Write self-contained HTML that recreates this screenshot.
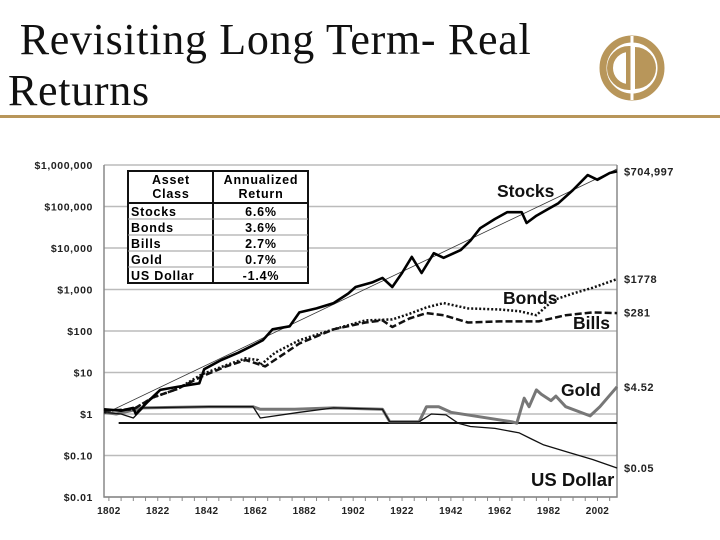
<!DOCTYPE html>
<html><head><meta charset="utf-8"><style>
body{margin:0;width:720px;height:540px;background:#fff;overflow:hidden;position:relative;font-family:"Liberation Sans",sans-serif}
.title{position:absolute;left:8px;top:14px;font-family:"Liberation Serif",serif;font-size:44px;line-height:51px;color:#111;letter-spacing:0.7px}
</style></head><body>
<div class="title">&nbsp;Revisiting Long Term- Real<br>Returns</div>
<div style="position:absolute;left:0;top:115px;width:720px;height:3px;background:#b8965a"></div>
<svg style="position:absolute;left:596px;top:33px" width="72" height="70" viewBox="0 0 72 70">
<circle cx="36" cy="35" r="29" fill="none" stroke="#b8965a" stroke-width="7"/>
<path d="M33 16 A19 19 0 0 0 33 54 Z" fill="none" stroke="#b8965a" stroke-width="6"/>
<path d="M39 14 L39 56 A21 21 0 0 0 39 14 Z" fill="#b8965a"/>
<line x1="36" y1="3" x2="36" y2="67" stroke="#fff" stroke-width="3"/>
</svg>
<svg id="chart" style="position:absolute;left:0;top:0" width="720" height="540"></svg>
<script>
const yTicks=[1000000,100000,10000,1000,100,10,1,0.1,0.01];
const yTickLabels=["$1,000,000","$100,000","$10,000","$1,000","$100","$10","$1","$0.10","$0.01"];
const xTicks=[1802,1822,1842,1862,1882,1902,1922,1942,1962,1982,2002];
const stockYears=[1800,1807,1812,1813,1818,1823,1830,1839,1841,1848,1855,1860,1865,1869,1876,1880,1887,1894,1900,1903,1910,1914,1918,1922,1926,1930,1935,1939,1946,1950,1954,1960,1965,1971,1973,1977,1981,1986,1992,1998,2002,2007,2010];
const stockVals=[1.3,1.2,1.4,1.0,2,3.8,4.5,5.5,12,20,30,42,60,110,130,280,350,470,800,1150,1500,1900,1150,2500,6100,2500,7500,5800,8900,15000,30000,50000,73000,73000,40000,60000,82000,120000,250000,570000,440000,640000,705000];
const trendYears=[1800,2010];
const trendVals=[1,800000];
const bondYears=[1800,1812,1820,1830,1840,1850,1858,1863,1864,1870,1880,1894,1907,1918,1925,1932,1939,1949,1962,1970,1977,1984,1992,2000,2010];
const bondVals=[1.2,1.3,2.5,4,9,15,22,20,15,30,60,110,180,190,260,370,470,350,330,300,240,560,800,1100,1778];
const billYears=[1800,1812,1820,1830,1840,1850,1858,1863,1866,1880,1894,1907,1914,1918,1925,1932,1939,1949,1962,1978,1989,2000,2010];
const billVals=[1.2,1.3,2.5,4,8,14,20,16,14,50,110,160,180,125,200,270,240,160,170,170,240,280,270];
const goldYears=[1800,1805,1816,1843,1861,1864,1878,1894,1914,1917,1929,1932,1937,1942,1967,1969,1972,1974,1977,1979,1983,1985,1989,1999,2003,2010];
const goldVals=[1.1,1.0,1.4,1.5,1.5,1.3,1.3,1.4,1.3,0.65,0.65,1.5,1.5,1.1,0.65,0.6,2.4,1.5,3.8,3.0,2.1,2.7,1.5,0.9,1.5,4.52];
const usdYears=[1800,1807,1812,1816,1843,1861,1864,1880,1894,1914,1917,1929,1934,1940,1945,1950,1960,1970,1975,1980,1990,2000,2010];
const usdVals=[1.1,1.0,0.8,1.4,1.5,1.5,0.8,1.1,1.4,1.3,0.65,0.65,1.0,0.95,0.6,0.5,0.45,0.35,0.25,0.18,0.12,0.08,0.05];
const endLabels=["$704,997","$1778","$281","$4.52","$0.05"];
const endVals=[704997,1778,281,4.52,0.05];

const L=104,R=617,T=165,B=497;
const x=yr=>L+(yr-1800)*(R-L)/210;
const y=v=>T+(6-Math.log10(v))*(B-T)/8;
const svg=document.getElementById('chart');
const NS="http://www.w3.org/2000/svg";
function mk(tag,attrs,parent){const e=document.createElementNS(NS,tag);for(const k in attrs)e.setAttribute(k,attrs[k]);(parent||svg).appendChild(e);return e;}
yTicks.forEach((v,i)=>{
  const g=mk('line',{x1:L,x2:R,y1:y(v),y2:y(v),stroke:'#bbb','stroke-width':1.5});
  
  
  const t=mk('text',{x:L-11,y:y(v)+4,'text-anchor':'end','font-size':10.5,'letter-spacing':0.6,'font-weight':'bold',fill:'#222'});
  t.textContent=yTickLabels[i];
  
  
});
const ax=mk('path',{d:`M${L} ${T} V${B} H${R} V${T}`,fill:'none',stroke:'#888','stroke-width':1.5});


for(let yr=1802;yr<=2010;yr+=5){mk('line',{x1:x(yr),x2:x(yr),y1:B,y2:B+4,stroke:'#888'});}
xTicks.forEach(yr=>{
  const t=mk('text',{x:x(yr),y:B+17,'text-anchor':'middle','font-size':10,'letter-spacing':0.3,'font-weight':'bold',fill:'#222'});
  t.textContent=yr;
  
  
});
const base=mk('line',{x1:x(1806),x2:R,y1:423,y2:423,stroke:'#111','stroke-width':2});


function series(ys,vs,name,st){
  const d=ys.map((yr,i)=>(i?'L':'M')+x(yr).toFixed(1)+' '+y(vs[i]).toFixed(1)).join(' ');
  const p=mk('path',Object.assign({d,fill:'none','stroke-linejoin':'round'},st));
  
  
}
series(goldYears,goldVals,'gold-line',{stroke:'#777','stroke-width':3});
series(usdYears,usdVals,'us-dollar-line',{stroke:'#111','stroke-width':1.3});
series(billYears,billVals,'bills-line',{stroke:'#111','stroke-width':2.5,'stroke-dasharray':'7 3'});
series(bondYears,bondVals,'bonds-line',{stroke:'#111','stroke-width':2.5,'stroke-dasharray':'2 2'});
series(trendYears,trendVals,'stocks-trend-line',{stroke:'#333','stroke-width':0.8});
series(stockYears,stockVals,'stocks-line',{stroke:'#000','stroke-width':2.6});
endVals.forEach((v,i)=>{
  const t=mk('text',{x:R+7,y:y(v)+4,'font-size':11,'letter-spacing':0.5,'font-weight':'bold',fill:'#222'});
  t.textContent=endLabels[i];
  
  
});
[["Stocks",497,197],["Bonds",503,304],["Bills",573,329],["Gold",561,396],["US Dollar",531,486]].forEach(s=>{
  const t=mk('text',{x:s[1],y:s[2],'font-size':s[0]=="US Dollar"?18.5:17.5,'font-weight':'bold',fill:'#111'});
  t.textContent=s[0];
  
  
});
// table
const tb=mk('g',{});


mk('rect',{x:128,y:171,width:180,height:112,fill:'#fff',stroke:'#111','stroke-width':2},tb);
mk('line',{x1:213,x2:213,y1:171,y2:283,stroke:'#111','stroke-width':2},tb);
mk('line',{x1:128,x2:308,y1:203,y2:203,stroke:'#111','stroke-width':2},tb);
const rows=[["Stocks","6.6%"],["Bonds","3.6%"],["Bills","2.7%"],["Gold","0.7%"],["US Dollar","-1.4%"]];
const fs={'font-size':12.5,'letter-spacing':0.8,'font-weight':'bold'};
[["Asset",184],["Class",198]].forEach(h=>{const t=mk('text',Object.assign({x:171,y:h[1],'text-anchor':'middle'},fs),tb);t.textContent=h[0];});
[["Annualized",184],["Return",198]].forEach(h=>{const t=mk('text',Object.assign({x:261,y:h[1],'text-anchor':'middle'},fs),tb);t.textContent=h[0];});
rows.forEach((r,i)=>{
  const ry=203+i*16;
  if(i) mk('line',{x1:128,x2:308,y1:ry,y2:ry,stroke:'#999'},tb);
  const a=mk('text',Object.assign({x:131,y:ry+13},fs),tb);a.textContent=r[0];
  const b=mk('text',Object.assign({x:261,y:ry+13,'text-anchor':'middle'},fs),tb);b.textContent=r[1];
});
</script>
</body></html>
